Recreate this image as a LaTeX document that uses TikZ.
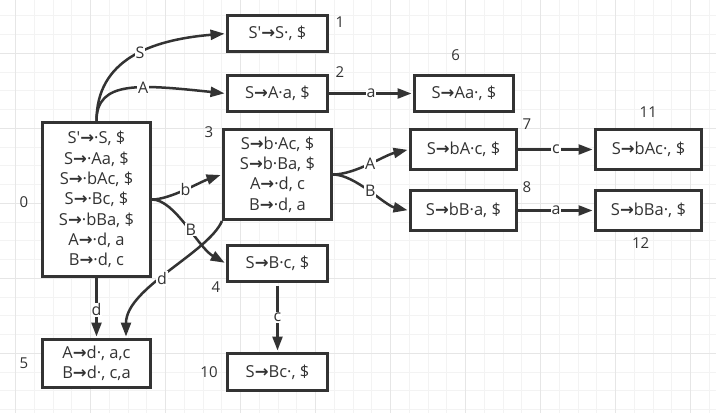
\documentclass[tikz,border=0pt]{standalone}
\usepackage{fontspec}
\setmainfont{Open Sans}
\newfontfamily\arrowfont{DejaVu Sans Bold}
\newcommand{\yields}{{\arrowfont →}}
\usetikzlibrary{arrows.meta}
\usepackage{xcolor}
\definecolor{ink}{HTML}{333333}
\definecolor{gridminor}{HTML}{F3F3F3}
\definecolor{gridmajor}{HTML}{E6E6E6}

\begin{document}
\begin{tikzpicture}[x=1pt,y=1pt,
    state/.style={draw=ink, line width=3pt, fill=white, align=center, text=ink,
        inner sep=0pt, font=\fontsize{16.5}{20.3}\selectfont},
    trans/.style={draw=ink, line width=2.5pt, shorten >=1.5pt,
        -{Triangle[length=14pt,width=10pt]}},
    lbl/.style={fill=white, text=ink, inner sep=1pt, font=\fontsize{16}{18}\selectfont},
    num/.style={text=ink, inner sep=0pt, font=\fontsize{15}{18}\selectfont}]

    \useasboundingbox (0,0) rectangle (716,-413);
    \fill[white] (0,0) rectangle (716,-413);

    % Light grid behind the automaton
    \foreach \k in {0,...,37} {
        \pgfmathsetmacro{\gx}{15.7+18.75*\k}
        \draw[gridminor, line width=1pt] (\gx,0) -- (\gx,-413);
    }
    \foreach \k in {0,...,21} {
        \pgfmathsetmacro{\gy}{-15.8-18.75*\k}
        \draw[gridminor, line width=1pt] (0,\gy) -- (716,\gy);
    }
    \foreach \k in {0,...,9} {
        \pgfmathsetmacro{\gx}{15.7+75*\k}
        \draw[gridmajor, line width=1pt] (\gx,0) -- (\gx,-413);
    }
    \foreach \k in {0,...,4} {
        \pgfmathsetmacro{\gy}{-53.3-75*\k}
        \draw[gridmajor, line width=1pt] (0,\gy) -- (716,\gy);
    }

    % Item sets
    \node[state, minimum width=108pt, minimum height=154pt] (s0) at (96.5,-199.5)
        {S\textquotesingle\yields·S, \$\\S\yields·Aa, \$\\S\yields·bAc, \$\\S\yields·Bc, \$\\S\yields·bBa, \$\\A\yields·d, a\\B\yields·d, c};
    \node[state, minimum width=100pt, minimum height=36pt] (s1) at (277.5,-33.5) {S\textquotesingle\yields S·, \$};
    \node[state, minimum width=100pt, minimum height=36pt] (s2) at (277.5,-93.5) {S\yields A·a, \$};
    \node[state, minimum width=108pt, minimum height=90pt] (s3) at (277.5,-174.5)
        {S\yields b·Ac, \$\\S\yields b·Ba, \$\\A\yields·d, c\\B\yields·d, a};
    \node[state, minimum width=100pt, minimum height=36pt] (s4) at (277.5,-263.5) {S\yields B·c, \$};
    \node[state, minimum width=108pt, minimum height=48pt] (s5) at (96.5,-363.5)
        {A\yields d·, a,c\\B\yields d·, c,a};
    \node[state, minimum width=99pt, minimum height=36pt] (s6) at (464,-93.5) {S\yields Aa·, \$};
    \node[state, minimum width=106pt, minimum height=40pt] (s7) at (463.5,-149.5) {S\yields bA·c, \$};
    \node[state, minimum width=106pt, minimum height=40pt] (s8) at (463.5,-210.5) {S\yields bB·a, \$};
    \node[state, minimum width=100pt, minimum height=37pt] (s10) at (277.5,-372) {S\yields Bc·, \$};
    \node[state, minimum width=106pt, minimum height=40pt] (s11) at (648.5,-149.5) {S\yields bAc·, \$};
    \node[state, minimum width=106pt, minimum height=40pt] (s12) at (648.5,-210.5) {S\yields bBa·, \$};

    % State numbers
    \node[num] (n0) at (24,-201.7) {0};
    \node[num] (n1) at (340,-22) {1};
    \node[num] (n2) at (340,-72) {2};
    \node[num] (n3) at (209,-131.7) {3};
    \node[num] (n4) at (216,-287) {4};
    \node[num] (n5) at (24,-363) {5};
    \node[num] (n6) at (455.7,-55) {6};
    \node[num] (n7) at (527,-124) {7};
    \node[num] (n8) at (527,-186.7) {8};
    \node[num] (n10) at (209,-372) {10};
    \node[num] (n11) at (648.3,-111.7) {11};
    \node[num] (n12) at (640.7,-243.3) {12};

    % Transitions
    \draw[trans] (s0.north) .. controls +(0,61) and +(-76,-6.5) .. node[lbl, pos=0.55] {S} (s1.west);
    \draw[trans] (s0.north) .. controls +(0,41) and +(-86,9) .. node[lbl, pos=0.6] {A} (s2.west);
    \draw[trans] (s0.east) .. controls +(18,0) and +(-22,-7.5) .. node[lbl, pos=0.5] {b} (s3.west);
    \draw[trans] (s0.east) .. controls +(23,0) and +(-28,16) .. node[lbl, pos=0.55] {B} (s4.west);
    \draw[trans] (s3.south west) .. controls +(-14,-32) and +(0,50) .. node[lbl, pos=0.55] {d} ([xshift=29.5pt]s5.north);
    \draw[trans] (s0.south) -- node[lbl, pos=0.53] {d} (s5.north);
    \draw[trans, shorten <=3pt] (s4.south) -- node[lbl] {c} (s10.north);
    \draw[trans] (s2.east) -- node[lbl] {a} (s6.west);
    \draw[trans] (s3.east) .. controls +(22,0) and +(-24,-5.5) .. node[lbl, pos=0.5] {A} (s7.west);
    \draw[trans] (s3.east) .. controls +(22,0) and +(-24,5) .. node[lbl, pos=0.5] {B} (s8.west);
    \draw[trans] (s7.east) -- node[lbl] {c} (s11.west);
    \draw[trans] (s8.east) -- node[lbl] {a} (s12.west);

\end{tikzpicture}
\end{document}
